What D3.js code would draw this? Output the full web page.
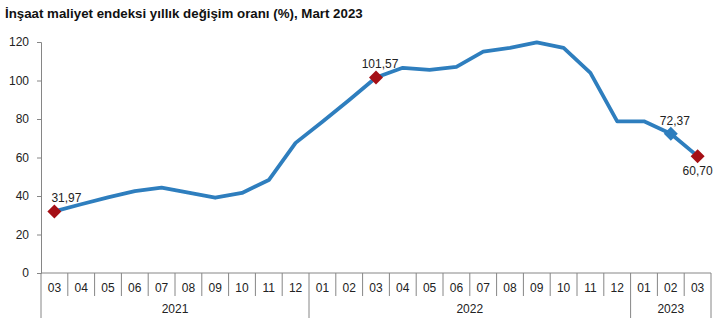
<!DOCTYPE html>
<html><head><meta charset="utf-8">
<script src="https://cdn.jsdelivr.net/npm/d3@7"></script>
<style>body{margin:0;background:#fff}svg{display:block}text{font-family:"Liberation Sans",Arial,sans-serif}</style>
</head><body>
<svg id="c" width="725" height="329"></svg>
<script>
const title = "İnşaat maliyet endeksi yıllık değişim oranı (%), Mart 2023";
const months = ["03","04","05","06","07","08","09","10","11","12","01","02","03","04","05","06","07","08","09","10","11","12","01","02","03"];
const years = ["2021","2022","2023"];
const yearSpans = [10, 12, 3];
const values = [31.97,35.7,39.3,42.5,44.4,41.8,39.1,41.6,48.3,67.6,78.6,89.9,101.57,106.6,105.5,107.1,115.0,117.0,119.8,117.0,104.0,78.8,78.8,72.37,60.70];
const yTicks = [0,20,40,60,80,100,120];
const labelled = [{i:0,text:"31,97",color:"#A50F15",dx:12,dy:-9},{i:12,text:"101,57",color:"#A50F15",dx:4,dy:-9},{i:23,text:"72,37",color:"#2E7EBE",dx:4,dy:-9},{i:24,text:"60,70",color:"#A50F15",dx:0,dy:19}];

const svg = d3.select("#c");
const L=41, R=711, T=42, B=273;
const x = d3.scaleBand().domain(d3.range(months.length)).range([L,R]);
const y = d3.scaleLinear().domain([0,120]).range([B,T]);

svg.append("text").attr("x",5).attr("y",18).attr("font-size",13.3).attr("font-weight","bold").attr("fill","#111").text(title);

// y axis
const ya = svg.append("g").attr("transform",`translate(${L},0)`).call(d3.axisLeft(y).tickValues(yTicks).tickSize(4).tickPadding(8).tickFormat(d3.format("d")));
ya.select(".domain").attr("stroke","#868686");
ya.selectAll(".tick line").attr("stroke","#868686");
ya.selectAll(".tick text").attr("font-size",12).attr("fill","#222").attr("font-family","Liberation Sans, Arial, sans-serif");

// x axis baseline
svg.append("line").attr("x1",L).attr("x2",R).attr("y1",B).attr("y2",B).attr("stroke","#868686");
// month separators
const seps = d3.range(months.length+1);
const yearBounds = d3.cumsum([0].concat(yearSpans));
svg.selectAll(".sep").data(seps).join("line")
  .attr("x1",i=>L+x.step()*i).attr("x2",i=>L+x.step()*i)
  .attr("y1",B).attr("y2",i=>yearBounds.includes(i)?318:296)
  .attr("stroke","#868686");
svg.selectAll(".mlab").data(months).join("text")
  .attr("x",(d,i)=>x(i)+x.bandwidth()/2).attr("y",292).attr("text-anchor","middle")
  .attr("font-size",12).attr("fill","#222").text(d=>d);
svg.selectAll(".ylab").data(years).join("text")
  .attr("x",(d,i)=>L+x.step()*(yearBounds[i]+yearBounds[i+1])/2).attr("y",313).attr("text-anchor","middle")
  .attr("font-size",12).attr("fill","#222").text(d=>d);

// line
const line = d3.line().x((d,i)=>x(i)+x.bandwidth()/2).y(d=>y(d));
svg.append("path").datum(values).attr("d",line).attr("fill","none").attr("stroke","#2E7EBE").attr("stroke-width",3.8).attr("stroke-linejoin","round");

// markers
const sym = d3.symbol().type(d3.symbolDiamond2).size(125);
svg.selectAll(".mk").data(labelled).join("path")
  .attr("d",sym).attr("transform",d=>`translate(${x(d.i)+x.bandwidth()/2},${y(values[d.i])})`)
  .attr("fill",d=>d.color);
svg.selectAll(".vl").data(labelled).join("text")
  .attr("x",d=>x(d.i)+x.bandwidth()/2+d.dx).attr("y",d=>y(values[d.i])+d.dy)
  .attr("text-anchor","middle").attr("font-size",12).attr("fill","#222").text(d=>d.text);
</script>
</body></html>
